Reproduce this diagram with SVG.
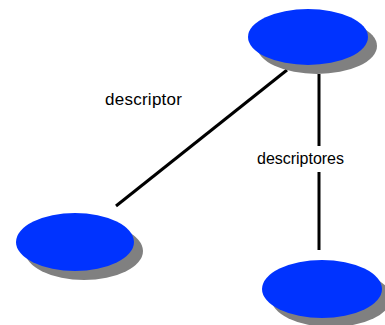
<svg xmlns="http://www.w3.org/2000/svg" width="385" height="325" viewBox="0 0 385 325">
<style>
.shadow{fill:#808080}
.node{fill:#0033ff}
.edge{stroke:#000;stroke-width:3;fill:none}
.lbl{font-family:"Liberation Sans",Arial,sans-serif;fill:#000}
</style>
<rect width="385" height="325" fill="#fff"/>
<g id="connectors">
<line class="edge" x1="116" y1="206" x2="287" y2="70"/>
<line class="edge" x1="319" y1="74" x2="319" y2="146"/>
<line class="edge" x1="319" y1="172" x2="319" y2="250"/>
</g>
<g id="n1">
<ellipse class="shadow" cx="317" cy="46" rx="60" ry="28"/>
<ellipse class="node" cx="308" cy="37" rx="60" ry="28"/>
</g>
<g id="n2">
<ellipse class="shadow" cx="84" cy="251" rx="59" ry="29"/>
<ellipse class="node" cx="75" cy="242" rx="59" ry="29"/>
</g>
<g id="n3">
<ellipse class="shadow" cx="331" cy="298" rx="60" ry="29"/>
<ellipse class="node" cx="322" cy="289" rx="60" ry="29"/>
</g>
<text class="lbl" x="105" y="105" font-size="17" textLength="77">descriptor</text>
<text class="lbl" x="257" y="164" font-size="16" textLength="87">descriptores</text>
</svg>
